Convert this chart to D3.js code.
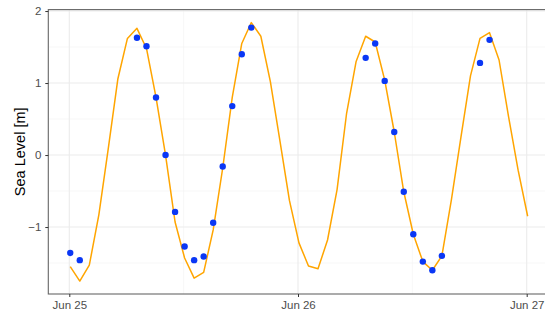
<!DOCTYPE html>
<html>
<head>
<meta charset="utf-8">
<script src="https://cdn.jsdelivr.net/npm/d3@7"></script>
<style>
  body { margin: 0; background: #fff; }
  svg { display: block; }
  text { font-family: "Liberation Sans", Arial, sans-serif; }
</style>
</head>
<body>
<div id="chart"></div>
<script>
// hours after Jun 25 00:00 and predicted level (orange line)
const predHours = [0,1,2,3,4,5,6,7,8,9,10,11,12,13,14,15,16,17,18,19,20,21,22,23,24,
                   25,26,27,28,29,30,31,32,33,34,35,36,37,38,39,40,41,42,43,44,45,46,47,48];
const predLevel = [-1.55,-1.75,-1.53,-0.83,0.10,1.06,1.62,1.76,1.48,0.80,0.00,-0.93,-1.43,-1.71,-1.63,-1.04,-0.18,0.80,1.55,1.84,1.65,1.02,0.20,-0.63,-1.22,
                   -1.54,-1.58,-1.18,-0.48,0.58,1.30,1.65,1.57,1.04,0.32,-0.51,-1.10,-1.48,-1.60,-1.40,-0.62,0.25,1.10,1.62,1.70,1.32,0.53,-0.21,-0.85];

// observed level (blue points)
const obsHours = [0,1,7,8,9,10,11,12,13,14,15,16,17,18,19,31,32,33,34,35,36,37,38,39,43,44];
const obsLevel = [-1.36,-1.46,1.63,1.51,0.80,0.00,-0.79,-1.27,-1.46,-1.41,-0.94,-0.16,0.68,1.40,1.77,
                  1.35,1.55,1.03,0.32,-0.51,-1.10,-1.48,-1.60,-1.40,1.28,1.60];

const yTicks = [-1, 0, 1, 2];
const yMinor = [-1.5, -0.5, 0.5, 1.5];
const xTickDays = [25, 26, 27];
const xMinorHours = [12, 36];
const yTitle = "Sea Level [m]";

const W = 545, H = 313;
const t0 = new Date(2023, 5, 25, 0, 6).getTime(); // samples sit a few minutes after the hour
const tm = h => new Date(t0 + h * 3600e3);
const day = d => new Date(2023, 5, d);

const panel = {left: 48.3, right: 549.6, top: 9.6, bottom: 294};

const x = d3.scaleTime()
  .domain([day(25), day(27)])
  .range([69.3, 526.7]);
const y = d3.scaleLinear()
  .domain([-1.93, 2.02])
  .range([panel.bottom, panel.top]);

const svg = d3.select('#chart').append('svg')
  .attr('width', W).attr('height', H);

svg.append('rect').attr('width', W).attr('height', H).attr('fill', '#fff');

const grid = svg.append('g');
// minor grid
grid.selectAll('.ymin').data(yMinor).join('line')
  .attr('x1', panel.left).attr('x2', panel.right)
  .attr('y1', d => y(d)).attr('y2', d => y(d))
  .attr('stroke', '#f2f2f2').attr('stroke-width', 0.6);
grid.selectAll('.xmin').data(xMinorHours).join('line')
  .attr('x1', d => x(new Date(2023, 5, 25, d))).attr('x2', d => x(new Date(2023, 5, 25, d)))
  .attr('y1', panel.top).attr('y2', panel.bottom)
  .attr('stroke', '#f2f2f2').attr('stroke-width', 0.6);
// major grid
grid.selectAll('.ymaj').data(yTicks).join('line')
  .attr('x1', panel.left).attr('x2', panel.right)
  .attr('y1', d => y(d)).attr('y2', d => y(d))
  .attr('stroke', '#ebebeb').attr('stroke-width', 1.1);
grid.selectAll('.xmaj').data(xTickDays).join('line')
  .attr('x1', d => x(day(d))).attr('x2', d => x(day(d)))
  .attr('y1', panel.top).attr('y2', panel.bottom)
  .attr('stroke', '#ebebeb').attr('stroke-width', 1.1);

// predicted line
const pred = predHours.map((h, i) => [tm(h), predLevel[i]]);
svg.append('path')
  .datum(pred)
  .attr('d', d3.line().x(d => x(d[0])).y(d => y(d[1])))
  .attr('fill', 'none')
  .attr('stroke', '#ffa500')
  .attr('stroke-width', 1.5)
  .attr('stroke-linejoin', 'round');

// observed points
svg.selectAll('circle.obs').data(obsHours).join('circle')
  .attr('class', 'obs')
  .attr('cx', d => x(tm(d)))
  .attr('cy', (d, i) => y(obsLevel[i]))
  .attr('r', 3.2)
  .attr('fill', '#0a37f5');

// panel border
svg.append('rect')
  .attr('x', panel.left).attr('y', panel.top)
  .attr('width', panel.right - panel.left).attr('height', panel.bottom - panel.top)
  .attr('fill', 'none').attr('stroke', '#666').attr('stroke-width', 1.1);

// axes
const yAxis = svg.append('g')
  .attr('transform', `translate(${panel.left},0)`)
  .call(d3.axisLeft(y).tickValues(yTicks).tickSize(3).tickPadding(4).tickFormat(d3.format('d')));
const xAxis = svg.append('g')
  .attr('transform', `translate(0,${panel.bottom})`)
  .call(d3.axisBottom(x).tickValues(xTickDays.map(day)).tickSize(3).tickPadding(4)
    .tickFormat(d3.timeFormat('%b %d')));

[yAxis, xAxis].forEach(a => {
  a.select('.domain').remove();
  a.selectAll('.tick line').attr('stroke', '#333').attr('stroke-width', 1);
  a.selectAll('.tick text').attr('fill', '#4d4d4d')
    .style('font-size', '11.5px').style('font-family', '"Liberation Sans", Arial, sans-serif');
});

svg.append('text')
  .attr('transform', `translate(25,${(panel.top + panel.bottom) / 2}) rotate(-90)`)
  .attr('text-anchor', 'middle')
  .attr('fill', '#000')
  .style('font-size', '14.5px')
  .text(yTitle);
</script>
</body>
</html>
